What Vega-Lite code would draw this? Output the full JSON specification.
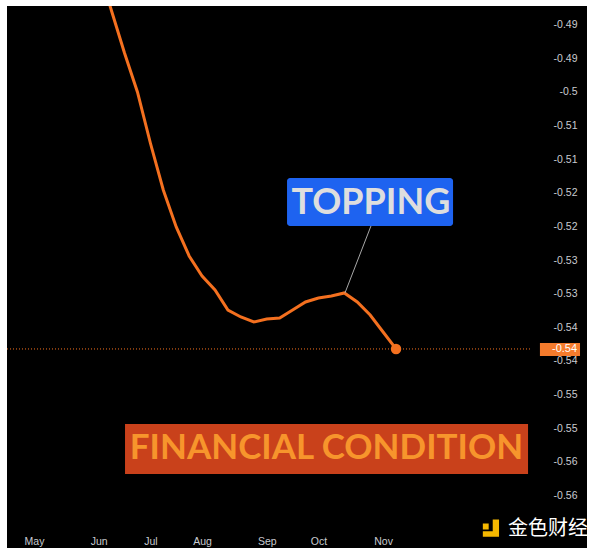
{
  "$schema": "https://vega.github.io/schema/vega-lite/v6.json",
  "width": 580,
  "height": 542,
  "autosize": {"type": "none"},
  "padding": {"left": 7, "top": 6, "right": 13, "bottom": 6},
  "background": "#ffffff",
  "config": {
    "view": {"fill": "#000000", "stroke": null},
    "axis": {"grid": false, "domain": false, "ticks": false, "tickSize": 0, "labelColor": "#c8cbd0", "labelFont": "Liberation Sans", "labelFontSize": 10.5, "title": null}
  },
  "datasets": {
    "series": [
      {"week": 4, "value": -0.47521},
      {"week": 5, "value": -0.48160},
      {"week": 6, "value": -0.48799},
      {"week": 7, "value": -0.49424},
      {"week": 8, "value": -0.50003},
      {"week": 9, "value": -0.50761},
      {"week": 10, "value": -0.51459},
      {"week": 11, "value": -0.52009},
      {"week": 12, "value": -0.52440},
      {"week": 13, "value": -0.52738},
      {"week": 14, "value": -0.52946},
      {"week": 15, "value": -0.53243},
      {"week": 16, "value": -0.53347},
      {"week": 17, "value": -0.53421},
      {"week": 18, "value": -0.53377},
      {"week": 19, "value": -0.53362},
      {"week": 20, "value": -0.53243},
      {"week": 21, "value": -0.53124},
      {"week": 22, "value": -0.53065},
      {"week": 23, "value": -0.53035},
      {"week": 24, "value": -0.52990},
      {"week": 25, "value": -0.53124},
      {"week": 26, "value": -0.53317},
      {"week": 27, "value": -0.53570},
      {"week": 28, "value": -0.53822}
    ],
    "last": [{"week": 28, "value": -0.53822, "label": "-0.54"}],
    "topping": [{"label": "TOPPING"}],
    "fincond": [{"label": "FINANCIAL CONDITION"}],
    "mark": [{"label": "金色财经"}]
  },
  "layer": [
    {
      "data": {"name": "series"},
      "mark": {"type": "line", "color": "#f4701f", "strokeWidth": 3, "clip": true},
      "encoding": {
        "x": {
          "field": "week", "type": "quantitative",
          "scale": {"domain": [-2.088, 42.77], "nice": false, "zero": false},
          "axis": {"orient": "bottom", "values": [0, 5, 9, 13, 18, 22, 27], "tickCount": 50, "labelExpr": "['May','Jun','Jul','Aug','Sep','Oct','Nov'][indexof([0,5,9,13,18,22,27], datum.value)]", "labelPadding": -4, "labelBaseline": "alphabetic", "labelFlush": false, "labelOverlap": false}
        },
        "y": {
          "field": "value", "type": "quantitative",
          "scale": {"domain": [-0.5678, -0.48725], "nice": false, "zero": false},
          "axis": {"orient": "right", "values": [-0.49, -0.495, -0.5, -0.505, -0.51, -0.515, -0.52, -0.525, -0.53, -0.535, -0.54, -0.545, -0.55, -0.555, -0.56], "tickCount": 50, "labelExpr": "replace(format(datum.value, '.2~f'), '\u2212', '-')", "labelAlign": "right", "labelPadding": -10, "labelBaseline": "middle", "labelFlush": false, "labelOverlap": false, "labelBound": false}
        }
      }
    },
    {
      "data": {"name": "last"},
      "mark": {"type": "rule", "color": "#f4701f", "strokeWidth": 1, "strokeDash": [1, 2]},
      "encoding": {
        "x": {"datum": -2.088, "type": "quantitative"},
        "x2": {"datum": 38.36},
        "y": {"field": "value", "type": "quantitative"}
      }
    },
    {
      "data": {"name": "last"},
      "mark": {"type": "point", "filled": true, "color": "#f4701f", "opacity": 1, "size": 110},
      "encoding": {
        "x": {"field": "week", "type": "quantitative"},
        "y": {"field": "value", "type": "quantitative"}
      }
    },
    {
      "data": {"name": "last"},
      "mark": {"type": "rect", "color": "#f47b2c"},
      "encoding": {
        "x": {"datum": 39.13, "type": "quantitative"},
        "x2": {"datum": 42.23},
        "y": {"datum": -0.53733, "type": "quantitative"},
        "y2": {"datum": -0.53926}
      }
    },
    {
      "data": {"name": "last"},
      "mark": {"type": "text", "color": "#ffffff", "font": "Liberation Sans", "fontSize": 11, "align": "right", "baseline": "middle"},
      "encoding": {
        "x": {"datum": 42.0, "type": "quantitative"},
        "y": {"field": "value", "type": "quantitative"},
        "text": {"field": "label"}
      }
    },
    {
      "data": {"name": "topping"},
      "mark": {"type": "rule", "color": "#a8a8a8", "strokeWidth": 1},
      "encoding": {
        "x": {"datum": 26.06, "type": "quantitative"},
        "y": {"datum": -0.51995, "type": "quantitative"},
        "x2": {"datum": 24.05},
        "y2": {"datum": -0.5299}
      }
    },
    {
      "data": {"name": "topping"},
      "mark": {"type": "rect", "color": "#1e63f0", "cornerRadius": 3},
      "encoding": {
        "x": {"datum": 19.57, "type": "quantitative"},
        "x2": {"datum": 32.41},
        "y": {"datum": -0.51281, "type": "quantitative"},
        "y2": {"datum": -0.51995}
      }
    },
    {
      "data": {"name": "topping"},
      "mark": {"type": "text", "color": "#dedede", "font": "Lato", "fontWeight": "bold", "fontSize": 36, "align": "center", "baseline": "alphabetic"},
      "encoding": {
        "x": {"datum": 26.06, "type": "quantitative"},
        "y": {"datum": -0.51816, "type": "quantitative"},
        "text": {"field": "label"}
      }
    },
    {
      "data": {"name": "fincond"},
      "mark": {"type": "rect", "color": "#c9411b"},
      "encoding": {
        "x": {"datum": 7.04, "type": "quantitative"},
        "x2": {"datum": 38.21},
        "y": {"datum": -0.54937, "type": "quantitative"},
        "y2": {"datum": -0.5568}
      }
    },
    {
      "data": {"name": "fincond"},
      "mark": {"type": "text", "color": "#f7952c", "font": "Lato", "fontWeight": "bold", "fontSize": 35, "align": "center", "baseline": "alphabetic"},
      "encoding": {
        "x": {"datum": 22.62, "type": "quantitative"},
        "y": {"datum": -0.55457, "type": "quantitative"},
        "text": {"field": "label"}
      }
    },
    {
      "data": {"name": "mark"},
      "mark": {"type": "point", "filled": true, "opacity": 1, "color": "#f5b800", "size": 324, "shape": "M-0.9,-0.5H-0.25V0.15H-0.9Z M0.2,-0.95H0.9V0.95H-0.9V0.35H0.2Z"},
      "encoding": {
        "x": {"datum": 35.34, "type": "quantitative"},
        "y": {"datum": -0.56484, "type": "quantitative"}
      }
    },
    {
      "data": {"name": "mark"},
      "mark": {"type": "text", "color": "#ffffff", "font": "Noto Sans CJK SC", "fontSize": 20, "align": "left", "baseline": "alphabetic"},
      "encoding": {
        "x": {"datum": 36.66, "type": "quantitative"},
        "y": {"datum": -0.56587, "type": "quantitative"},
        "text": {"field": "label"}
      }
    }
  ]
}
